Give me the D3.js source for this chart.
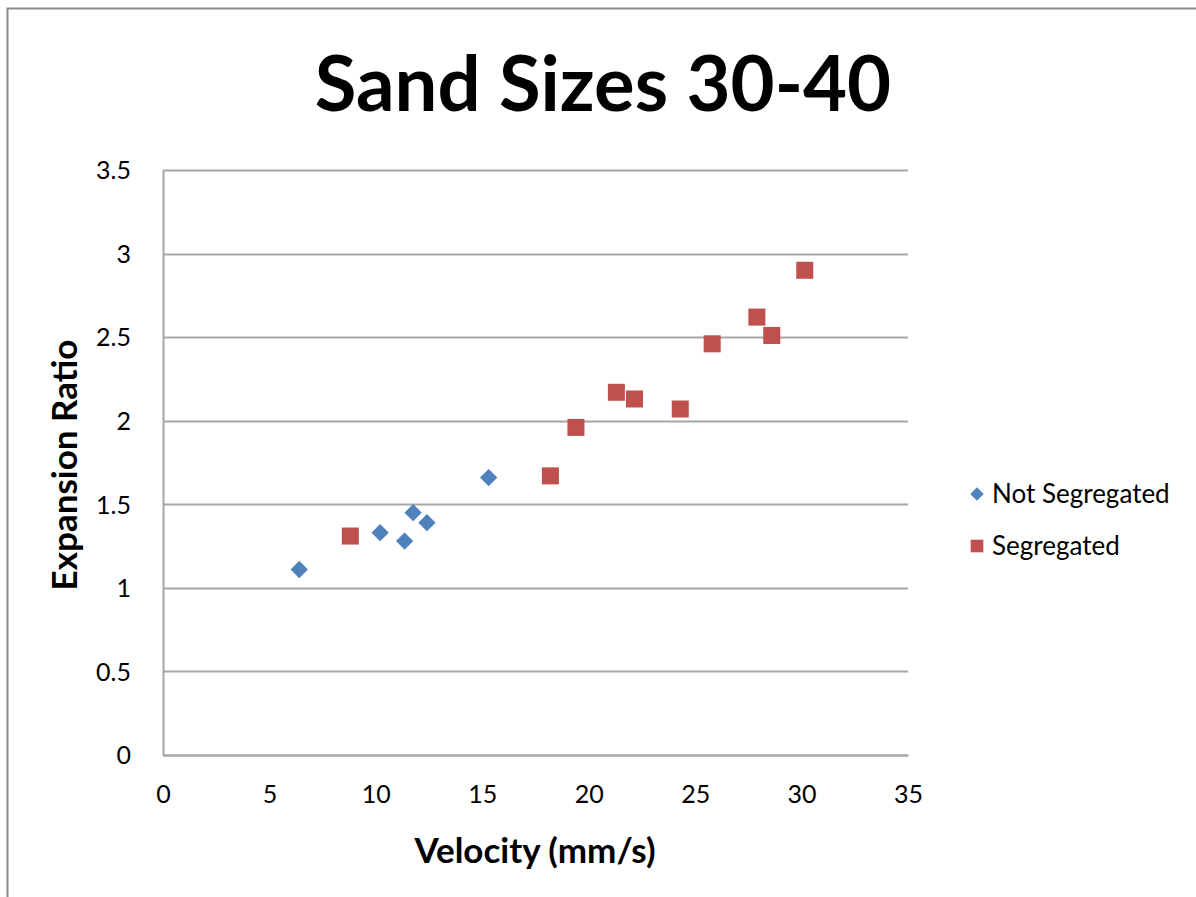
<!DOCTYPE html>
<html>
<head>
<meta charset="utf-8">
<script src="https://cdn.jsdelivr.net/npm/d3@7"></script>
<style>
	body { margin: 0; background: #fff; }
	text { font-family: Lato, "Open Sans", sans-serif; fill: #000; }
	.tick text { font-size: 25px; }
</style>
</head>
<body>
<div id="chart"></div>
<script>
// data
let not_seg_velocity = [6.4, 10.2, 11.35, 11.75, 12.4, 15.3];
let not_seg_ratio = [1.11, 1.33, 1.28, 1.45, 1.39, 1.66];

let seg_velocity = [8.8, 18.2, 19.4, 21.3, 22.15, 24.3, 25.8, 27.9, 28.6, 30.15];
let seg_ratio = [1.31, 1.67, 1.96, 2.17, 2.13, 2.07, 2.46, 2.62, 2.51, 2.9];

let x_ticks = [0, 5, 10, 15, 20, 25, 30, 35];
let y_ticks = [0, 0.5, 1, 1.5, 2, 2.5, 3, 3.5];

let series = [
	{ name: "Not Segregated", color: "#4F81BD", shape: "diamond", xs: not_seg_velocity, ys: not_seg_ratio },
	{ name: "Segregated", color: "#C0504D", shape: "square", xs: seg_velocity, ys: seg_ratio },
];

let width = 1196;
let height = 897;
let margin = { top: 170, right: 288, bottom: 142, left: 163 };

let x = d3.scaleLinear().domain([0, 35]).range([margin.left, width - margin.right]);
let y = d3.scaleLinear().domain([0, 3.5]).range([height - margin.bottom, margin.top]);

let svg = d3
	.select("#chart")
	.append("svg")
	.attr("width", width)
	.attr("height", height);

// chart frame (only top and left edges show)
svg.append("path")
	.attr("d", "M7.5," + height + "V8.5H" + width)
	.attr("fill", "none")
	.attr("stroke", "#8c8c8c")
	.attr("stroke-width", 2);

// title
svg.append("text")
	.attr("x", 603)
	.attr("y", 111)
	.attr("text-anchor", "middle")
	.style("font-size", "76px")
	.style("font-weight", "bold")
	.text("Sand Sizes 30-40");

// gridlines
svg.append("g")
	.selectAll("line")
	.data(y_ticks)
	.enter()
	.append("line")
	.attr("x1", x(0))
	.attr("x2", x(35))
	.attr("y1", (d) => Math.round(y(d)) + 0.5)
	.attr("y2", (d) => Math.round(y(d)) + 0.5)
	.attr("stroke", "#a6a6a6")
	.attr("stroke-width", 2);

// y axis
svg.append("g")
	.attr("transform", "translate(" + x(0) + ",0)")
	.call(d3.axisLeft(y).tickValues(y_ticks).tickFormat(d3.format("")).tickSize(0).tickPadding(32))
	.call((g) => g.select(".domain").attr("stroke", "#a6a6a6").attr("stroke-width", 2))
	.call((g) => g.selectAll(".tick text").attr("dy", "0.35em"));

// x axis
svg.append("g")
	.attr("transform", "translate(0," + y(0) + ")")
	.call(d3.axisBottom(x).tickValues(x_ticks).tickFormat(d3.format("")).tickSize(0).tickPadding(30))
	.call((g) => g.select(".domain").attr("stroke", "#a6a6a6").attr("stroke-width", 2));

// axis titles
svg.append("text")
	.attr("x", 535)
	.attr("y", 863)
	.attr("text-anchor", "middle")
	.style("font-size", "35px")
	.style("font-weight", "bold")
	.text("Velocity (mm/s)");

svg.append("text")
	.attr("transform", "translate(77,465) rotate(-90)")
	.attr("text-anchor", "middle")
	.style("font-size", "35px")
	.style("font-weight", "bold")
	.text("Expansion Ratio");

let diamond = d3.symbol().type(d3.symbolSquare).size(150);
let square = d3.symbol().type(d3.symbolSquare).size(290);

function marker(sel, s) {
	if (s.shape === "diamond") {
		sel.attr("d", diamond()).attr("transform", (d) => "translate(" + d[0] + "," + d[1] + ") rotate(45)");
	} else {
		sel.attr("d", square()).attr("transform", (d) => "translate(" + d[0] + "," + d[1] + ")");
	}
}

series.forEach(function (s) {
	let pts = s.xs.map((v, i) => [x(v), y(s.ys[i])]);
	svg.append("g")
		.selectAll("path")
		.data(pts)
		.enter()
		.append("path")
		.attr("fill", s.color)
		.call(marker, s);
});

// legend
let legend = svg.append("g");
series.forEach(function (s, i) {
	let ly = 494 + i * 52;
	legend.append("path")
		.attr("fill", s.color)
		.call(function (sel) {
			if (s.shape === "diamond") {
				sel.attr("d", d3.symbol().type(d3.symbolSquare).size(90)()).attr("transform", "translate(977," + ly + ") rotate(45)");
			} else {
				sel.attr("d", d3.symbol().type(d3.symbolSquare).size(160)()).attr("transform", "translate(977," + ly + ")");
			}
		});
	legend.append("text")
		.attr("x", 992)
		.attr("y", ly)
		.attr("dy", "0.35em")
		.style("font-size", "26px")
		.text(s.name);
});
</script>
</body>
</html>
